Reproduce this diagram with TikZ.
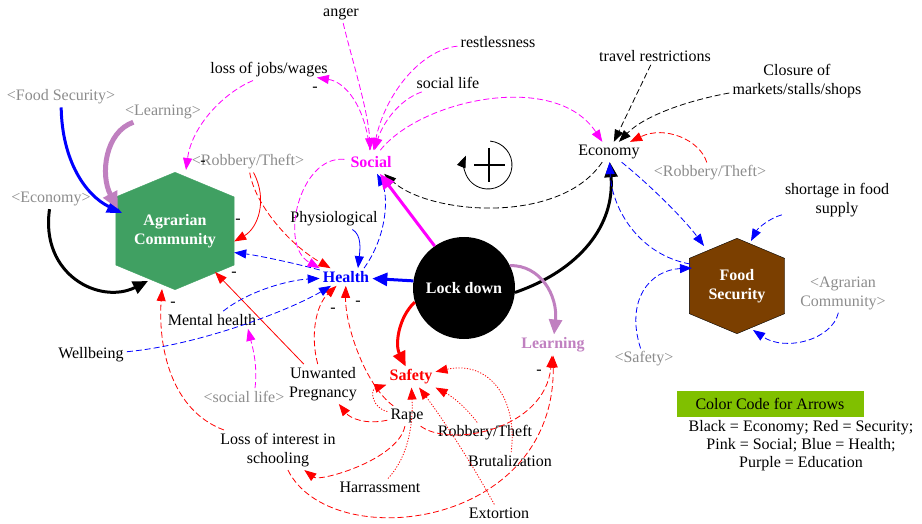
\documentclass[tikz,border=0pt]{standalone}
\usepackage{fontspec}
\setmainfont{Liberation Serif}
\usetikzlibrary{arrows.meta, calc, positioning, backgrounds}

\definecolor{shadowgray}{HTML}{8C8C8C}
\definecolor{agrgreen}{HTML}{40A062}
\definecolor{foodbrown}{HTML}{7B3F00}
\definecolor{edupurple}{HTML}{C080C0}
\definecolor{keygreen}{HTML}{80C000}
\definecolor{socpink}{HTML}{FF00FF}

\tikzstyle{var} = [font=\fontsize{16}{19}\selectfont, align=center, inner sep=3pt]
\tikzstyle{shadow} = [var, text=shadowgray]
\tikzstyle{stock} = [var, font=\fontsize{16}{19}\selectfont\bfseries]
\tikzstyle{pol} = [font=\fontsize{16}{19}\selectfont, inner sep=0pt]
\tikzstyle{link} = [->, line width=0.8pt]
\tikzstyle{dashlink} = [link, dash pattern=on 6pt off 3pt]
\tikzstyle{dotlink} = [link, dash pattern=on 1.2pt off 1.6pt]
\tikzstyle{biglink} = [-{Triangle[length=15pt,width=13pt]}, line width=3pt]
\newcommand{\hexfill}[2]{\filldraw[#2] (#1.north)
  -- ($(#1.north east)!.21!(#1.south east)$) -- ($(#1.south east)!.21!(#1.north east)$)
  -- (#1.south)
  -- ($(#1.south west)!.21!(#1.north west)$) -- ($(#1.north west)!.21!(#1.south west)$) -- cycle;}

\begin{document}
\begin{tikzpicture}[x=1pt, y=-1pt, >={Triangle[length=12pt,width=9pt]}]
    \useasboundingbox (0,0) rectangle (922,524);

    % variables
    \node [var] (anger) at (341,14) {anger};
    \node [var] (restless) at (498,42) {restlessness};
    \node [var] (jobs) at (269,70) {loss of jobs/wages};
    \node [var] (soclife) at (448,83) {social life};
    \node [var] (travel) at (655,56) {travel restrictions};
    \node [var] (closure) at (797,81) {Closure of\\markets/stalls/shops};
    \node [shadow] (fsghost) at (61,97) {<Food Security>};
    \node [shadow] (learnghost) at (163,112) {<Learning>};
    \node [shadow] (robghost) at (248,162) {<Robbery/Theft>};
    \node [stock, text=socpink, inner sep=6pt] (social) at (371,162) {Social};
    \node [var] (econ) at (609,152) {Economy};
    \node [shadow] (robghost2) at (710,173) {<Robbery/Theft>};
    \node [var] (shortage) at (837,200) {shortage in food\\supply};
    \node [shadow] (econghost) at (51,199) {<Economy>};
    \node [stock, text=white, minimum width=118pt, minimum height=117pt] (agr) at (175,231) {Agrarian\\Community};
    \node [var] (phys) at (334,219) {Physiological};
    \node [stock, text=blue] (health) at (346,277) {Health};
    \node [stock, circle, fill=black, text=white, minimum size=102pt] (lock) at (464,288) {Lock down};
    \node [stock, text=white, minimum width=95pt, minimum height=95pt] (food) at (737,286) {Food\\Security};
    \node [shadow] (agrghost) at (843,293) {<Agrarian\\Community>};
    \node [var] (mental) at (212,320) {Mental health};
    \node [var] (wellbeing) at (91,355) {Wellbeing};
    \node [shadow] (socghost) at (244,397) {<social life>};
    \node [var] (pregnancy) at (323,384) {Unwanted\\Pregnancy};
    \node [stock, text=red] (safety) at (411,377) {Safety};
    \node [stock, text=edupurple] (learning) at (553,345) {Learning};
    \node [shadow] (safeghost) at (644,359) {<Safety>};
    \node [var] (rape) at (407,416) {Rape};
    \node [var] (schooling) at (278,450) {Loss of interest in\\schooling};
    \node [var] (robbery) at (485,433) {Robbery/Theft};
    \node [var] (brutal) at (510,461) {Brutalization};
    \node [var] (harass) at (380,487) {Harrassment};
    \node [var] (extort) at (499,513) {Extortion};

    \begin{scope}[on background layer]
        \hexfill{agr}{fill=agrgreen, draw=agrgreen}
        \hexfill{food}{fill=foodbrown, draw=black}
    \end{scope}

    % polarity marks
    \foreach \x/\y [count=\i] in {315/89, 203/163, 238/221, 234/274, 173/304, 333/310, 358/303, 539/372}
        \node [pol] (minus\i) at (\x,\y) {-};

    % reinforcing loop
    \draw [->, line width=0.8pt] (488,165) ++(-85:24) arc [start angle=-85, end angle=203, radius=24];
    \draw [line width=1.3pt] (474,165) -- (505,165) (489,148) -- (489,182);

    % economy (black)
    \draw [biglink] (econghost) .. controls (40,275) and (100,305) .. ($(agr)+(-27,50)$);
    \draw [biglink] (lock.-5) .. controls (580,270) and (615,225) .. (econ);
    \draw [dashlink] (econ) .. controls (560,225) and (430,215) .. (social);
    \draw [dashlink] (travel) -- (econ);
    \draw [dashlink] (closure) .. controls (690,100) and (645,115) .. (econ);

    % security (red)
    \draw [dashlink, red] (robghost2) .. controls (700,140) and (665,125) .. (econ);
    \draw [link, red] (robghost) .. controls (268,200) and (258,228) .. (agr.-10);
    \draw [dashlink, red] (robghost) .. controls (255,205) and (290,245) .. (health);
    \draw [biglink, red] (lock.196) .. controls (398,318) and (395,345) .. (safety);
    \draw [dashlink, red] (pregnancy) .. controls (310,335) and (316,305) .. (health);
    \draw [link, red] (pregnancy) -- ($(agr)+(40,41)$);
    \draw [dashlink, red] (schooling) .. controls (170,410) and (158,345) .. ($(agr)+(-13,58)$);
    \draw [dashlink, red] (rape) .. controls (365,385) and (345,325) .. (health);
    \draw [dotlink, red] (rape) .. controls (372,408) and (370,390) .. (safety);
    \draw [dashlink, red] (rape) .. controls (365,425) and (350,418) .. (pregnancy);
    \draw [dashlink, red] (rape) .. controls (398,460) and (320,482) .. (schooling);
    \draw [dotlink, red] (harass) .. controls (410,455) and (413,420) .. (safety);
    \draw [dotlink, red] (robbery) .. controls (468,410) and (455,398) .. (safety.south east);
    \draw [dotlink, red] (brutal) .. controls (518,400) and (490,360) .. (safety);
    \draw [dotlink, red] (extort) .. controls (470,460) and (440,415) .. (safety);
    \draw [dashlink, red] (rape) .. controls (450,448) and (545,430) .. (learning);
    \draw [dashlink, red] (schooling) .. controls (330,555) and (555,530) .. (learning);

    % health (blue)
    \draw [biglink, blue] (lock.172) -- (health);
    \draw [dashlink, blue] (health) .. controls (290,262) and (255,255) .. (agr.-20);
    \draw [dashlink, blue] (mental) .. controls (250,290) and (290,280) .. (health);
    \draw [dashlink, blue] (wellbeing) .. controls (200,345) and (290,310) .. (health);
    \draw [link, blue] (phys) .. controls (362,235) and (360,250) .. ($(health.north)+(12,0)$);
    \draw [dashlink, blue] ($(health.north)+(18,0)$) .. controls (388,235) and (388,195) .. (social);
    \draw [dashlink, blue] (econ) .. controls (650,185) and (685,220) .. ($(food)+(-33,-40)$);
    \draw [dashlink, blue] ($(food)+(-47,-22)$) .. controls (640,255) and (612,210) .. (econ);
    \draw [dashlink, blue] (safeghost) .. controls (625,300) and (650,270) .. ($(food)+(-45,-18)$);
    \draw [dashlink, blue] (shortage) .. controls (770,218) and (758,228) .. ($(food)+(14,-45)$);
    \draw [dashlink, blue] (agrghost) .. controls (832,340) and (785,352) .. ($(food)+(16,44)$);
    \draw [biglink, blue] (fsghost) .. controls (62,160) and (85,195) .. ($(agr)+(-53,-18)$);

    % social (pink)
    \draw [biglink, socpink] (lock.125) -- (social);
    \draw [dashlink, socpink] (anger) .. controls (352,60) and (368,110) .. (social);
    \draw [dashlink, socpink] (restless) .. controls (420,50) and (385,95) .. (social);
    \draw [dashlink, socpink] (soclife) .. controls (398,100) and (382,125) .. (social);
    \draw [dashlink, socpink] (social) .. controls (365,105) and (345,82) .. ($(jobs.south east)+(-14,-3)$);
    \draw [dashlink, socpink] ($(jobs.south)+(-16,0)$) .. controls (225,92) and (192,125) .. ($(agr)+(11,-61)$);
    \draw [dashlink, socpink] (social) .. controls (300,155) and (278,245) .. (health.north west);
    \draw [dashlink, socpink] ($(socghost.north)+(11,0)$) .. controls (258,365) and (252,345) .. ($(mental.south)+(36,0)$);
    \draw [dashlink, socpink] (social) .. controls (420,100) and (555,70) .. (econ);

    % education (purple)
    \draw [-{Triangle[length=17pt,width=15pt]}, line width=5pt, edupurple] (learnghost) .. controls (105,132) and (100,175) .. ($(agr)+(-57,-22)$);
    \draw [biglink, edupurple] (lock.26) .. controls (540,265) and (558,295) .. (learning);

    % colour key
    \node [var, fill=keygreen, minimum width=187pt, minimum height=26pt] (keyhead) at (770,404) {Color Code for Arrows};
    \node [var, font=\fontsize{16}{18}\selectfont] (keytext) at (801,446) {Black = Economy; Red = Security;\\Pink = Social; Blue = Health;\\Purple = Education};
\end{tikzpicture}
\end{document}
